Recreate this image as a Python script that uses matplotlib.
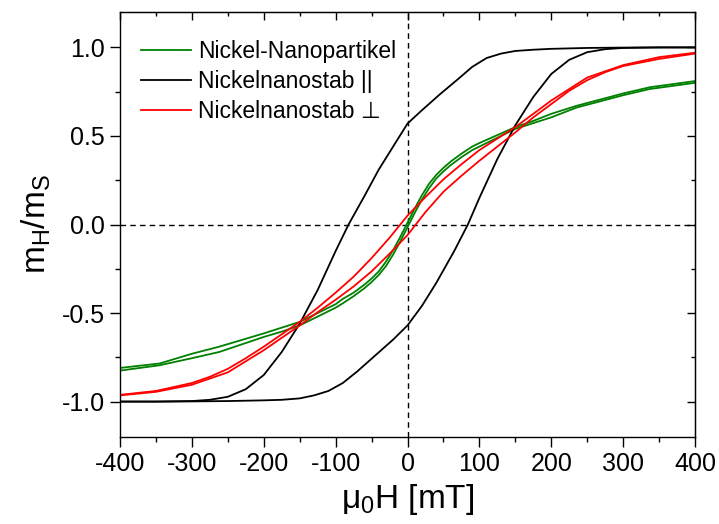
import matplotlib
matplotlib.use("Agg")
import matplotlib.pyplot as plt
from matplotlib.ticker import MultipleLocator, FixedLocator

plt.rcParams['font.family'] = ['Liberation Sans', 'DejaVu Sans']
plt.rcParams['mathtext.fontset'] = 'custom'
plt.rcParams['mathtext.rm'] = 'Liberation Sans'
plt.rcParams['mathtext.it'] = 'Liberation Sans'

# Nickel-Nanopartikel: descending and ascending branch (field in mT, m_H/m_S)
np_down_H = [400, 337, 300, 235, 200, 175, 150, 125, 100, 90, 75, 60, 50, 40,
             30, 20, 10, 0, -10, -20, -30, -40, -50, -60, -75, -90, -100, -125,
             -150, -200, -262, -300, -345, -400]
np_down_m = [0.81, 0.775, 0.74, 0.67, 0.625, 0.585, 0.55, 0.505, 0.46, 0.44,
             0.40, 0.355, 0.32, 0.28, 0.23, 0.165, 0.09, 0.01, -0.07, -0.145,
             -0.21, -0.265, -0.305, -0.34, -0.385, -0.42, -0.45, -0.50, -0.55,
             -0.615, -0.69, -0.73, -0.785, -0.81]
np_up_H = [-400, -345, -300, -262, -200, -175, -150, -125, -100, -90, -75, -60,
           -50, -40, -30, -20, -10, 0, 10, 20, 30, 40, 50, 60, 75, 90, 100,
           125, 150, 200, 235, 300, 337, 400]
np_up_m = [-0.825, -0.795, -0.755, -0.72, -0.635, -0.605, -0.57, -0.52, -0.47,
           -0.445, -0.405, -0.36, -0.325, -0.285, -0.235, -0.17, -0.095, -0.015,
           0.065, 0.14, 0.205, 0.26, 0.30, 0.335, 0.38, 0.42, 0.44, 0.49,
           0.54, 0.605, 0.66, 0.73, 0.765, 0.80]

# Nickelnanostab, field parallel to the rod axis
par_down_H = [400, 350, 300, 250, 200, 175, 150, 130, 110, 90, 70, 45, 20, 0,
              -20, -40, -60, -82, -100, -125, -150, -175, -200, -225, -250,
              -275, -300, -350, -400]
par_down_m = [1.0, 1.0, 0.999, 0.997, 0.992, 0.987, 0.98, 0.965, 0.94, 0.89,
              0.82, 0.735, 0.645, 0.57, 0.44, 0.31, 0.16, 0.0, -0.15, -0.37,
              -0.56, -0.72, -0.85, -0.93, -0.973, -0.99, -0.997, -1.0, -1.0]
par_up_H = [-400, -350, -300, -250, -200, -175, -150, -130, -110, -90, -70,
            -45, -20, 0, 20, 40, 65, 84, 100, 125, 150, 175, 200, 225, 250,
            275, 300, 350, 400]
par_up_m = [-1.0, -1.0, -0.999, -0.997, -0.993, -0.99, -0.982, -0.965, -0.94,
            -0.895, -0.83, -0.74, -0.65, -0.57, -0.46, -0.33, -0.15, 0.0,
            0.15, 0.37, 0.56, 0.72, 0.85, 0.93, 0.973, 0.99, 0.997, 1.0, 1.0]

# Nickelnanostab, field perpendicular to the rod axis
perp_down_H = [400, 350, 300, 250, 200, 150, 125, 100, 75, 50, 25, 0, -25, -50,
               -75, -100, -125, -150, -175, -200, -225, -250, -275, -300, -350,
               -400]
perp_down_m = [0.97, 0.945, 0.90, 0.83, 0.70, 0.55, 0.485, 0.42, 0.34, 0.255,
               0.155, 0.05, -0.075, -0.19, -0.295, -0.385, -0.47, -0.55, -0.62,
               -0.69, -0.755, -0.815, -0.86, -0.895, -0.94, -0.962]
perp_up_H = [-400, -350, -300, -250, -200, -175, -150, -125, -100, -75, -50,
             -25, 0, 25, 50, 75, 100, 125, 150, 175, 200, 225, 250, 275, 300,
             350, 400]
perp_up_m = [-0.965, -0.945, -0.905, -0.835, -0.71, -0.64, -0.57, -0.495,
             -0.425, -0.35, -0.265, -0.165, -0.06, 0.07, 0.185, 0.275, 0.36,
             0.44, 0.52, 0.605, 0.68, 0.755, 0.815, 0.86, 0.895, 0.935, 0.965]

x_ticks = [-400, -300, -200, -100, 0, 100, 200, 300, 400]
y_ticks = [-1.0, -0.5, 0.0, 0.5, 1.0]

fig = plt.figure(figsize=(7.19, 5.24), dpi=100)
ax = fig.add_axes([120 / 719, 87 / 524, 575 / 719, 425 / 524])

ax.axhline(0, color='black', lw=1.0, ls=(0, (4, 3)), zorder=1)
ax.axvline(0, color='black', lw=1.0, ls=(0, (4, 3)), zorder=1)

green = '#008000'
ax.plot(np_down_H, np_down_m, color=green, lw=1.3, label='Nickel-Nanopartikel')
ax.plot(np_up_H, np_up_m, color=green, lw=1.3)
ax.plot(par_down_H, par_down_m, color='black', lw=1.3, label='Nickelnanostab ||')
ax.plot(par_up_H, par_up_m, color='black', lw=1.3)
ax.plot(perp_down_H, perp_down_m, color='#ff0000', lw=1.3, label='Nickelnanostab \u22a5')
ax.plot(perp_up_H, perp_up_m, color='#ff0000', lw=1.3)

ax.set_xlim(-400, 400)
ax.set_ylim(-1.2, 1.2)
ax.xaxis.set_major_locator(FixedLocator(x_ticks))
ax.yaxis.set_major_locator(FixedLocator(y_ticks))
ax.xaxis.set_minor_locator(MultipleLocator(50))
ax.yaxis.set_minor_locator(MultipleLocator(0.25))
ax.set_xticklabels([f'{v:d}' for v in x_ticks])
ax.set_yticklabels([f'{v:.1f}' for v in y_ticks])

for s in ax.spines.values():
    s.set_linewidth(1.0)
ax.tick_params(which='major', direction='out', length=7, width=1.0,
               labelsize=18, pad=4)
ax.tick_params(which='minor', direction='out', length=3.6, width=1.0)

# mirrored inward ticks on the top and right edges
top = ax.secondary_xaxis('top')
top.xaxis.set_major_locator(FixedLocator(x_ticks))
top.xaxis.set_minor_locator(MultipleLocator(50))
top.tick_params(which='major', direction='in', length=6, width=1.0, labeltop=False)
top.tick_params(which='minor', direction='in', length=3.2, width=1.0)
right = ax.secondary_yaxis('right')
right.yaxis.set_major_locator(FixedLocator(y_ticks))
right.yaxis.set_minor_locator(MultipleLocator(0.25))
right.tick_params(which='major', direction='in', length=6, width=1.0, labelright=False)
right.tick_params(which='minor', direction='in', length=3.2, width=1.0)

ax.set_xlabel(r'$\mathregular{\mu_0H\ [mT]}$', fontsize=24, labelpad=4)
ax.set_ylabel(r'$\mathregular{m_H/m_S}$', fontsize=24, labelpad=6)

ax.legend(loc='upper left', frameon=False, fontsize=16.5, handlelength=2.2,
          handletextpad=0.3, labelspacing=0.3, borderaxespad=0.0,
          bbox_to_anchor=(0.02, 0.955))

fig.savefig('out.png', dpi=100)
